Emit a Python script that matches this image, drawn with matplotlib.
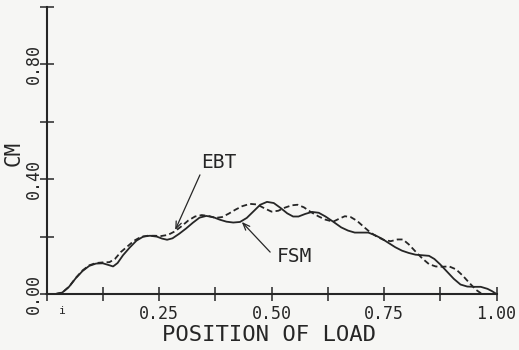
import matplotlib
matplotlib.use("Agg")
import matplotlib.pyplot as plt

# --- data ---
# FSM (solid)
fsm_x = [0, 0.02, 0.035, 0.05, 0.065, 0.08, 0.095, 0.11, 0.125, 0.138, 0.148, 0.158,
         0.17, 0.185, 0.2, 0.215, 0.23, 0.245, 0.257, 0.268, 0.28, 0.295, 0.31, 0.325,
         0.34, 0.355, 0.37, 0.385, 0.4, 0.415, 0.43, 0.445, 0.46, 0.475, 0.49, 0.505,
         0.52, 0.535, 0.548, 0.56, 0.575, 0.59, 0.605, 0.62, 0.637, 0.655, 0.67, 0.685,
         0.7, 0.715, 0.73, 0.745, 0.76, 0.775, 0.79, 0.805, 0.82, 0.835, 0.85, 0.862,
         0.875, 0.89, 0.905, 0.92, 0.935, 0.95, 0.965, 0.98, 0.99, 1.0]
fsm_y = [0, 0, 0.005, 0.025, 0.055, 0.08, 0.098, 0.106, 0.107, 0.101, 0.096, 0.108,
         0.135, 0.162, 0.186, 0.2, 0.203, 0.2, 0.193, 0.189, 0.194, 0.21, 0.228, 0.248,
         0.266, 0.272, 0.268, 0.259, 0.252, 0.249, 0.251, 0.265, 0.288, 0.311, 0.321, 0.317,
         0.3, 0.281, 0.27, 0.27, 0.279, 0.286, 0.283, 0.27, 0.252, 0.232, 0.221, 0.214,
         0.214, 0.214, 0.205, 0.193, 0.178, 0.163, 0.151, 0.143, 0.137, 0.135, 0.133, 0.122,
         0.103, 0.078, 0.053, 0.033, 0.026, 0.025, 0.025, 0.018, 0.01, 0]

# EBT (dashed)
ebt_x = [0, 0.02, 0.035, 0.05, 0.065, 0.08, 0.095, 0.11, 0.125, 0.14, 0.152, 0.165,
         0.18, 0.195, 0.21, 0.225, 0.24, 0.255, 0.27, 0.285, 0.3, 0.315, 0.33, 0.345,
         0.36, 0.375, 0.39, 0.405, 0.42, 0.435, 0.452, 0.468, 0.485, 0.5, 0.515, 0.53,
         0.545, 0.558, 0.572, 0.588, 0.605, 0.62, 0.637, 0.65, 0.663, 0.676, 0.69, 0.705,
         0.72, 0.735, 0.75, 0.765, 0.78, 0.792, 0.805, 0.82, 0.835, 0.85, 0.865, 0.88,
         0.895, 0.91, 0.925, 0.94, 0.955, 0.965, 0.975, 1.0]
ebt_y = [0, 0, 0.005, 0.025, 0.056, 0.082, 0.1, 0.108, 0.11, 0.111, 0.122, 0.146,
         0.166, 0.186, 0.199, 0.203, 0.203, 0.202, 0.206, 0.218, 0.236, 0.256, 0.27, 0.275,
         0.272, 0.265, 0.268, 0.28, 0.294, 0.306, 0.314, 0.312, 0.298, 0.287, 0.29, 0.301,
         0.309, 0.311, 0.302, 0.285, 0.27, 0.259, 0.252, 0.262, 0.271, 0.268, 0.255, 0.234,
         0.214, 0.199, 0.188, 0.184, 0.19, 0.19, 0.173, 0.148, 0.124, 0.104, 0.096, 0.095,
         0.096, 0.086, 0.064, 0.038, 0.014, 0.003, 0, 0]

x_ticks = [0.125 * i for i in range(9)]
x_labels = ["", "", "0.25", "", "0.50", "", "0.75", "", "1.00"]
y_ticks = [0, 0.2, 0.4, 0.6, 0.8, 1.0]
y_labels = ["0.00", "", "0.40", "", "0.80", ""]

ink = "#262626"
mono = "DejaVu Sans Mono"

fig = plt.figure(figsize=(5.19, 3.5), dpi=100, facecolor="#f6f6f4")
ax = fig.add_axes([46.5 / 519, 56 / 350, 450 / 519, 287 / 350])
ax.set_facecolor("none")

ax.plot(fsm_x, fsm_y, color=ink, lw=1.3, clip_on=False, solid_joinstyle="round")
dash, = ax.plot(ebt_x, ebt_y, color=ink, lw=1.3, clip_on=False)
dash.set_dashes((3.2, 1.8))

ax.set_xlim(0, 1)
ax.set_ylim(0, 1)
for s in ("top", "right"):
    ax.spines[s].set_visible(False)
for s in ("left", "bottom"):
    ax.spines[s].set_linewidth(1.5)
    ax.spines[s].set_color(ink)

ax.set_xticks(x_ticks)
ax.set_xticklabels(x_labels, fontfamily=mono, fontsize=12, color=ink)
ax.set_yticks(y_ticks)
ax.set_yticklabels(y_labels, fontfamily=mono, fontsize=12, color=ink,
                   rotation=90, va="center")
ax.tick_params(axis="both", direction="inout", length=10, width=1.1, colors=ink)
ax.tick_params(axis="x", pad=3)
ax.tick_params(axis="y", pad=-2.5)

# stray mark under the axis near the origin
ax.text(0.036, -0.06, "i", fontfamily=mono, fontsize=8, color=ink,
        ha="center", va="center")

fig.text(268.5 / 519, 1 - 335 / 350, "POSITION OF LOAD", fontfamily=mono,
         fontsize=16, color=ink, ha="center", va="center")
fig.text(14 / 519, 1 - 153 / 350, "CM", fontfamily=mono, fontsize=15,
         color=ink, ha="center", va="center", rotation=90)

# curve labels with leader arrows
ax.text(0.383, 0.458, "EBT", fontfamily=mono, fontsize=14, color=ink,
        ha="center", va="center")
ax.annotate("", xy=(0.286, 0.223), xytext=(0.341, 0.415),
            arrowprops=dict(arrowstyle="->,head_length=0.5,head_width=0.2",
                            color=ink, lw=0.9, shrinkA=0, shrinkB=0))
ax.text(0.55, 0.131, "FSM", fontfamily=mono, fontsize=14, color=ink,
        ha="center", va="center")
ax.annotate("", xy=(0.434, 0.251), xytext=(0.497, 0.146),
            arrowprops=dict(arrowstyle="->,head_length=0.5,head_width=0.2",
                            color=ink, lw=0.9, shrinkA=0, shrinkB=0))

fig.savefig("out.png", dpi=100, facecolor=fig.get_facecolor())
